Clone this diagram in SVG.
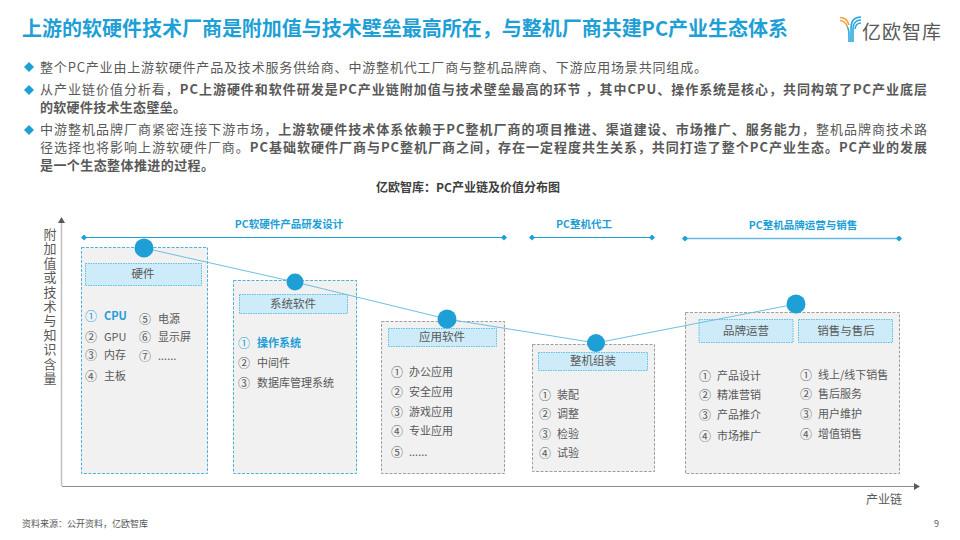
<svg xmlns="http://www.w3.org/2000/svg" width="960" height="540" viewBox="0 0 960 540">
<style>
text{font-family:"Noto Sans CJK SC","Microsoft YaHei",sans-serif;fill:#595959}
.title{font-size:20px;font-weight:700;fill:#1E9FD6}
.body{font-size:13px}
.b{font-weight:700}
.cap{font-size:12px;font-weight:700;fill:#404040}
.band{font-size:10.5px;font-weight:700;fill:#1E9FD6;text-anchor:middle}
.hd{font-size:11.5px;text-anchor:middle}
.it{font-size:11px}
.num{font-size:12px;text-anchor:middle}
.hot{fill:#1E9FD6;font-weight:700}
.card{fill:#F1F1F1;stroke-width:1;stroke-dasharray:3 1.500}
.cb{stroke:#4FB0D8}
.cg{stroke:#A0A0A0}
.head{fill:#CDEBF8;stroke:#5BC0E6;stroke-width:1;stroke-dasharray:1.500 1}
.dot{fill:#1E9FD6}
.seg{stroke:#1E9FD6;stroke-width:1.200;fill:none;marker-start:url(#dm);marker-end:url(#dm)}
.bul{fill:#1E9FD6}
</style>
<defs>
<marker id="dm" markerUnits="userSpaceOnUse" markerWidth="6" markerHeight="6" refX="3" refY="3" orient="auto"><path d="M0 3 3 0 6 3 3 6Z" fill="#1E9FD6"/></marker>
<marker id="ar" markerUnits="userSpaceOnUse" markerWidth="7" markerHeight="7" refX="1" refY="3.500" orient="auto"><path d="M0 0 6 3.500 0 7Z" fill="#595959"/></marker>
</defs>
<rect width="960" height="540" fill="#fff"/>
<text class="title" x="22" y="36" textLength="766">上游的软硬件技术厂商是附加值与技术壁垒最高所在&#xFF0C;与整机厂商共建PC产业生态体系</text>
<g id="logo">
<path d="M840 17.500C846 17.500 848 21 849 25M840 20.500C844 20.500 846 23 847.500 27" fill="none" stroke="#F2A03A" stroke-width="1.600"/>
<path d="M861 17C854 17 851 21 851 28V42M861 20C856 20 853.500 23 853 28V42M861 23C858 23 855.500 25 855 29M847.500 27C848.500 29 849 31 849 34V42" fill="none" stroke="#2BA8DC" stroke-width="1.600"/>
<text x="862" y="39" font-size="19" textLength="79">亿欧智库</text>
</g>
<g id="bullets">
<path class="bul" d="M24 67 29 62 34 67 29 72Z"/>
<path class="bul" d="M24 90 29 85 34 90 29 95Z"/>
<path class="bul" d="M24 130 29 125 34 130 29 135Z"/>
</g>
<g id="body">
<text class="body" x="40" y="72" textLength="667">整个PC产业由上游软硬件产品及技术服务供给商、中游整机代工厂商与整机品牌商、下游应用场景共同组成。</text>
<text class="body" x="40" y="94" textLength="887">从产业链价值分析看&#xFF0C;<tspan class="b">PC上游硬件和软件研发是PC产业链附加值与技术壁垒最高的环节 &#xFF0C;其中CPU、操作系统是核心&#xFF0C;共同构筑了PC产业底层</tspan></text>
<text class="body b" x="40" y="112" textLength="146">的软硬件技术生态壁垒。</text>
<text class="body" x="40" y="134" textLength="887">中游整机品牌厂商紧密连接下游市场&#xFF0C;<tspan class="b">上游软硬件技术体系依赖于PC整机厂商的项目推进、渠道建设、市场推广、服务能力</tspan>&#xFF0C;整机品牌商技术路</text>
<text class="body" x="40" y="152" textLength="887">径选择也将影响上游软硬件厂商。<tspan class="b">PC基础软硬件厂商与PC整机厂商之间&#xFF0C;存在一定程度共生关系&#xFF0C;共同打造了整个PC产业生态。PC产业的发展</tspan></text>
<text class="body b" x="40" y="170" textLength="174">是一个生态整体推进的过程。</text>
</g>
<text class="cap" x="468" y="192" text-anchor="middle">亿欧智库&#xFF1A;PC产业链及价值分布图</text>
<g id="axes" fill="none">
<path d="M61.500 486V222" stroke="#BFBFBF" stroke-width="1.500" marker-end="url(#ar)"/>
<path d="M62 486.500H915" stroke="#8C8C8C" stroke-width="1.200" marker-end="url(#ar)"/>
</g>
<text id="ylabel" x="50 50 50 50 50 50 50 50 50 50 50" y="239 253.400 267.800 282.200 296.600 311 325.400 339.800 354.200 368.600 383" font-size="13" text-anchor="middle">附加值或技术与知识含量</text>
<text x="866" y="504" font-size="12">产业链</text>
<g id="bands">
<text class="band" x="289" y="228">PC软硬件产品研发设计</text>
<text class="band" x="584" y="228">PC整机代工</text>
<text class="band" x="803" y="229">PC整机品牌运营与销售</text>
<path class="seg" d="M84 237.500H504"/>
<path class="seg" d="M532 237.500H652"/>
<path class="seg" d="M685 238.500H899" stroke-opacity=".7" style="stroke-width:1.600"/>
</g>
<g id="node-hardware">
<rect class="card cb" x="81.500" y="247.500" width="126" height="226"/>
<rect class="head" x="85.500" y="263.500" width="116" height="22"/>
<text class="hd" x="143" y="278">硬件</text>
<text class="num hot" x="91" y="321" style="font-weight:400">①</text><text class="it hot" x="104" y="320">CPU</text>
<text class="num" x="91" y="342">②</text><text class="it" x="104" y="341">GPU</text>
<text class="num" x="91" y="360">③</text><text class="it" x="104" y="359">内存</text>
<text class="num" x="91" y="381">④</text><text class="it" x="104" y="380">主板</text>
<text class="num" x="145" y="324">⑤</text><text class="it" x="158" y="323">电源</text>
<text class="num" x="145" y="342">⑥</text><text class="it" x="158" y="341">显示屏</text>
<text class="num" x="145" y="361">⑦</text><text class="it" x="158" y="360">......</text>
</g>
<g id="node-os">
<rect class="card cb" x="233.500" y="280.500" width="123" height="193"/>
<rect class="head" x="239.500" y="294.500" width="108" height="19"/>
<text class="hd" x="293" y="308">系统软件</text>
<text class="num hot" x="244" y="348" style="font-weight:400">①</text><text class="it hot" x="257" y="347">操作系统</text>
<text class="num" x="244" y="368">②</text><text class="it" x="257" y="367">中间件</text>
<text class="num" x="244" y="388">③</text><text class="it" x="257" y="387">数据库管理系统</text>
</g>
<g id="node-app">
<rect class="card cg" x="381.500" y="321.500" width="123" height="152"/>
<rect class="head" x="388.500" y="328.500" width="108" height="18"/>
<text class="hd" x="442" y="341">应用软件</text>
<text class="num" x="397" y="377">①</text><text class="it" x="409" y="376">办公应用</text>
<text class="num" x="397" y="397">②</text><text class="it" x="409" y="396">安全应用</text>
<text class="num" x="397" y="417">③</text><text class="it" x="409" y="416">游戏应用</text>
<text class="num" x="397" y="436">④</text><text class="it" x="409" y="435">专业应用</text>
<text class="num" x="397" y="457">⑤</text><text class="it" x="409" y="456">......</text>
</g>
<g id="node-assembly">
<rect class="card cg" x="532.500" y="344.500" width="122" height="127"/>
<rect class="head" x="538.500" y="352.500" width="109" height="18"/>
<text class="hd" x="593" y="365">整机组装</text>
<text class="num" x="545" y="400">①</text><text class="it" x="557" y="399">装配</text>
<text class="num" x="545" y="419">②</text><text class="it" x="557" y="418">调整</text>
<text class="num" x="545" y="439">③</text><text class="it" x="557" y="438">检验</text>
<text class="num" x="545" y="458">④</text><text class="it" x="557" y="457">试验</text>
</g>
<g id="node-brand">
<rect class="card cg" x="685.500" y="312.500" width="214" height="161"/>
<rect class="head" x="699" y="319.500" width="94" height="23"/>
<text class="hd" x="746" y="335">品牌运营</text>
<rect class="head" x="798.500" y="319.500" width="94" height="23"/>
<text class="hd" x="846" y="335">销售与售后</text>
<text class="num" x="705" y="381">①</text><text class="it" x="717" y="380">产品设计</text>
<text class="num" x="705" y="400">②</text><text class="it" x="717" y="399">精准营销</text>
<text class="num" x="705" y="420">③</text><text class="it" x="717" y="419">产品推介</text>
<text class="num" x="705" y="441">④</text><text class="it" x="717" y="440">市场推广</text>
<text class="num" x="806" y="380">①</text><text class="it" x="818" y="379">线上/线下销售</text>
<text class="num" x="806" y="399">②</text><text class="it" x="818" y="398">售后服务</text>
<text class="num" x="806" y="419">③</text><text class="it" x="818" y="418">用户维护</text>
<text class="num" x="806" y="439">④</text><text class="it" x="818" y="438">增值销售</text>
</g>
<g id="connectors">
<polyline points="144,248 295,282 447,319 596,343 796,304" fill="none" stroke="#6CC0E2" stroke-width="1"/>
</g>
<g id="points">
<circle class="dot" cx="144" cy="248" r="9.500"/>
<circle class="dot" cx="295" cy="282" r="8.500"/>
<circle class="dot" cx="447" cy="319" r="9.500"/>
<circle class="dot" cx="596" cy="343" r="9"/>
<circle class="dot" cx="796" cy="304" r="9.500"/>
</g>
<text x="22" y="527" font-size="9">资料来源&#xFF1A;公开资料&#xFF0C;亿欧智库</text>
<text x="934" y="527" font-size="9">9</text>
</svg>
